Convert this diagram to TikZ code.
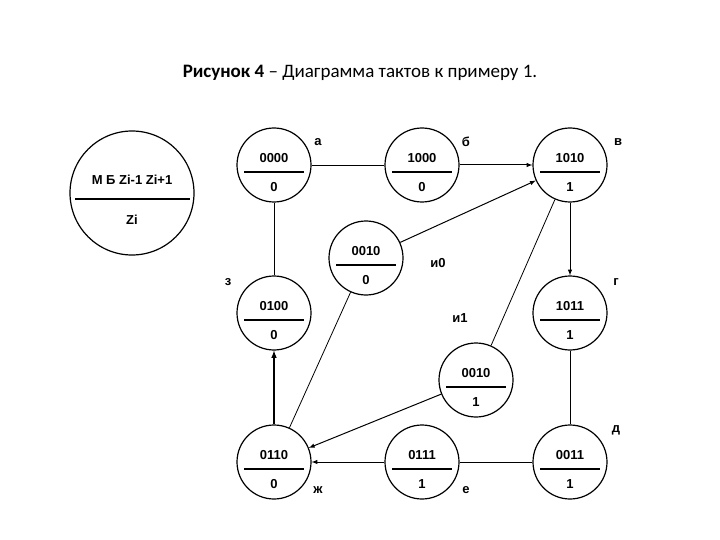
\documentclass[tikz,border=0pt]{standalone}
\usepackage{fontspec}
\setmainfont{Liberation Sans}
\newfontfamily\titlefont{Carlito}
\begin{document}
\begin{tikzpicture}[x=1pt,y=-1pt,
  st/.style={circle,draw,line width=1.2pt,minimum size=74pt,inner sep=0pt},
  lab/.style={font=\bfseries\fontsize{13}{15}\selectfont},
  ar/.style={-latex,line width=1pt},
  ln/.style={line width=0.8pt}]
\useasboundingbox (0,0) rectangle (720,540);
\node[font=\titlefont\fontsize{19}{22}\selectfont] (title) at (360,73) {\textbf{Рисунок 4} – Диаграмма тактов к примеру 1.};
\newcommand\stnode[4]{%
  \node[st] (#1) at (#2) {};
  \draw[line width=1.2pt] ([shift={(-30,7)}]#1.center) -- ([shift={(30,7)}]#1.center);
  \node[lab] at ([shift={(0,-7)}]#1.center) {#3};
  \node[lab] at ([shift={(0,22)}]#1.center) {#4};}
\stnode{a}{274,165}{0000}{0}
\stnode{b}{422,165}{1000}{0}
\stnode{v}{570,165}{1010}{1}
\stnode{i0}{366,258}{0010}{0}
\stnode{z}{274,313}{0100}{0}
\stnode{g}{570,313}{1011}{1}
\stnode{i1}{476,380}{0010}{1}
\stnode{zh}{274,462}{0110}{0}
\stnode{e}{422,462}{0111}{1}
\stnode{d}{570,462}{0011}{1}
% legend
\node[circle,draw,line width=1.2pt,minimum size=124pt] (leg) at (132,193) {};
\node[lab] at (132,180) {М Б Zi-1 Zi+1};
\draw[line width=1.2pt] (75,199) -- (190,199);
\node[lab] at (132,220) {Zi};
% labels
\node[lab] at (318,142) {а};
\node[lab] at (466,142) {б};
\node[lab] at (618,142) {в};
\node[lab] at (616,282) {г};
\node[lab] at (228,282) {з};
\node[lab] at (438,263) {и0};
\node[lab] at (460,318) {и1};
\node[lab] at (616,430) {д};
\node[lab] at (318,490) {ж};
\node[lab] at (466,490) {е};
% edges
\draw[ln] (a) -- (b);
\draw[ar] (b) -- (v);
\draw[ar] (i0) -- (v);
\draw[ln] (v) -- (i1);
\draw[ar] (v) -- (g);
\draw[ln] (g) -- (d);
\draw[ln] (d) -- (e);
\draw[ar] (e) -- (zh);
\draw[ar] (i1) -- (zh);
\draw[ln] (i0) -- (zh);
\draw[ar,line width=1.5pt] (zh) -- (z);
\draw[ln] (z) -- (a);
\end{tikzpicture}
\end{document}
